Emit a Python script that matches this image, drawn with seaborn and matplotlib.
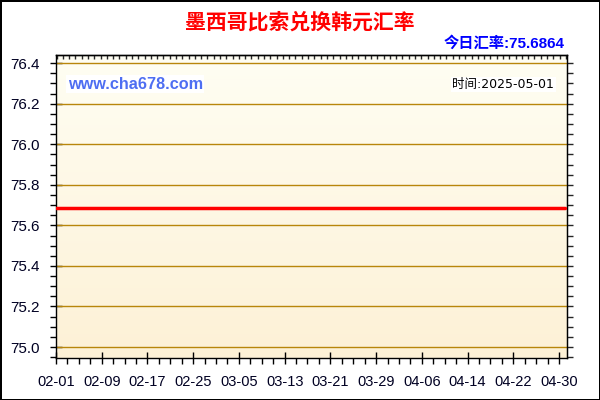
import matplotlib
matplotlib.use("Agg")
import matplotlib.pyplot as plt
import matplotlib.dates as mdates
from matplotlib.ticker import MultipleLocator, FixedLocator
import numpy as np
import pandas as pd
import seaborn as sns

# data
dates = ["2025-02-01", "2025-05-01"]
rates = [75.6864, 75.6864]
tick_labels = ["02-01", "02-09", "02-17", "02-25", "03-05", "03-13",
               "03-21", "03-29", "04-06", "04-14", "04-22", "04-30"]
y_ticks = [75.0, 75.2, 75.4, 75.6, 75.8, 76.0, 76.2, 76.4]
title = "墨西哥比索兑换韩元汇率"
today_rate = "今日汇率:75.6864"
stamp = "时间:2025-05-01"
site = "www.cha678.com"

df = pd.DataFrame({"date": pd.to_datetime(dates), "rate": rates})

sns.set_style("ticks")
plt.rcParams["font.family"] = ["Liberation Sans", "Noto Sans CJK SC", "DejaVu Sans"]

fig = plt.figure(figsize=(6, 4), dpi=100)
fig.patch.set_facecolor("white")
fig.patch.set_edgecolor("black")
fig.patch.set_linewidth(2)
ax = fig.add_axes([56 / 600, 1 - 358 / 400, 511 / 600, 303 / 400])

x0 = mdates.date2num(pd.Timestamp("2025-02-01"))
xlim = (x0, x0 + 89.4)
ylim = (74.946, 76.44)

# soft vertical gradient background
grad = np.linspace(0, 1, 256).reshape(-1, 1)
cmap = matplotlib.colors.LinearSegmentedColormap.from_list("bg", ["#fdf1d6", "#fffef3"])
ax.imshow(grad, aspect="auto", cmap=cmap, origin="lower",
          extent=[xlim[0], xlim[1], ylim[0], ylim[1]], zorder=0)

for y in y_ticks:
    ax.axhline(y, color="#b8860b", lw=1, zorder=1)

sns.lineplot(data=df, x="date", y="rate", color="red", lw=2.5, ax=ax, zorder=3)

ax.set_xlim(*xlim)
ax.set_ylim(*ylim)
ax.set_xlabel("")
ax.set_ylabel("")

tick_pos = [mdates.date2num(pd.Timestamp("2025-" + t)) for t in tick_labels]
ax.xaxis.set_major_locator(FixedLocator(tick_pos))
ax.set_xticklabels(tick_labels)
ax.xaxis.set_minor_locator(MultipleLocator(2))
ax.yaxis.set_major_locator(FixedLocator(y_ticks))
ax.set_yticklabels([f"{v:.1f}" for v in y_ticks])
ax.yaxis.set_minor_locator(MultipleLocator(0.05))

ax.tick_params(axis="both", which="major", direction="inout", length=8, width=1,
               color="black", labelcolor="#000022")
ax.tick_params(axis="both", which="minor", direction="out", length=4, width=1, color="black")
ax.tick_params(axis="x", which="major", labelsize=10.5, pad=8)
ax.tick_params(axis="y", which="major", labelsize=11, pad=8)

for s in ax.spines.values():
    s.set_color("black")
    s.set_linewidth(1)

top = ax.secondary_xaxis("top")
top.xaxis.set_major_locator(MultipleLocator(1.1))
top.tick_params(direction="in", length=3, width=1, labeltop=False)
top.spines["top"].set_linewidth(1)

right = ax.secondary_yaxis("right")
right.yaxis.set_major_locator(FixedLocator(y_ticks))
right.yaxis.set_minor_locator(MultipleLocator(0.05))
right.tick_params(which="both", direction="out", length=4, width=1, labelright=False)

fig.text(0.5, 1 - 22 / 400, title, ha="center", va="center", color="red",
         fontsize=15, fontweight="bold")
fig.text(565 / 600, 1 - 43 / 400, today_rate, ha="right", va="center", color="#0000ff",
         fontsize=11, fontweight="bold")
ax.text(0.023, 0.903, site, transform=ax.transAxes, ha="left", va="center",
        color="#4e6ef2", fontsize=11.7, fontweight="bold",
        bbox=dict(facecolor="white", edgecolor="none", pad=1), zorder=4)
ax.text(0.975, 0.903, stamp, transform=ax.transAxes, ha="right", va="center",
        color="black", fontsize=9, family=["DejaVu Sans", "Noto Sans CJK SC"],
        bbox=dict(facecolor="white", edgecolor="none", pad=1), zorder=4)

fig.savefig("out.png", dpi=100)
